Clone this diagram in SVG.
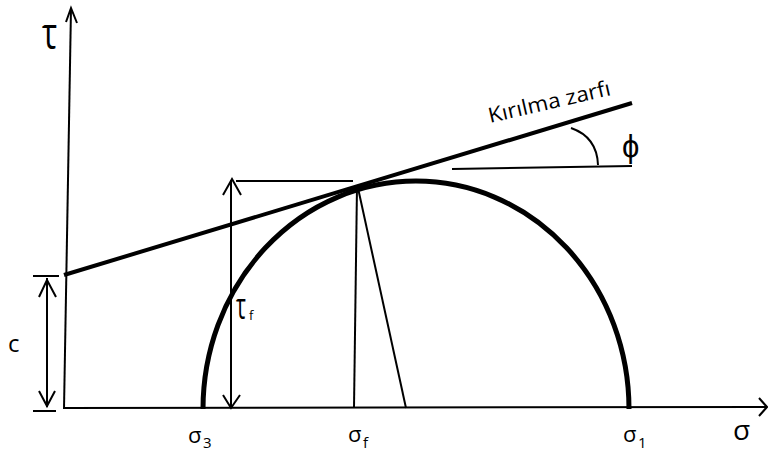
<svg xmlns="http://www.w3.org/2000/svg" width="768" height="453" viewBox="0 0 768 453">
<style>
.thin{stroke:#000;stroke-width:2;fill:none;stroke-linecap:butt}
.thick{stroke:#000;stroke-width:4;fill:none}
.circ{stroke:#000;stroke-width:5;fill:none}
text{font-family:"Open Sans","Liberation Sans",sans-serif;fill:#000}
</style>
<rect width="768" height="453" fill="#fff"/>
<g id="axes">
<line class="thin" x1="71" y1="8" x2="64" y2="409"/>
<polyline class="thin" points="66,22 71,8 77,23"/>
<line class="thin" x1="64" y1="408" x2="767" y2="407"/>
<polyline class="thin" points="759,398 767,407 759,416"/>
</g>
<g id="mohr-circle">
<path class="circ" d="M203,409 A213,228 0 0 1 629,409"/>
</g>
<g id="connectors">
<line class="thick" x1="64" y1="275" x2="632" y2="103"/>
<line class="thin" x1="236" y1="181" x2="353" y2="181"/>
<line class="thin" x1="231" y1="180" x2="231" y2="408"/>
<polyline class="thin" points="223,195 232,179 241,195"/>
<polyline class="thin" points="223,395 231,408 240,395"/>
<line class="thin" x1="47" y1="278" x2="47" y2="407"/>
<polyline class="thin" points="39,297 47,280 56,297"/>
<polyline class="thin" points="39,391 47,406 55,391"/>
<line class="thin" x1="33" y1="276" x2="59" y2="276"/>
<line class="thin" x1="33" y1="411" x2="56" y2="411"/>
<line class="thin" x1="357" y1="186" x2="354" y2="408"/>
<line class="thin" x1="358" y1="188" x2="406" y2="408"/>
<line class="thin" x1="452" y1="169" x2="632" y2="166"/>
<path class="thin" d="M571,128 Q597,137 598,165"/>
</g>
<g id="labels">
<text transform="translate(42,49) scale(1,1.38)" font-size="32">τ</text>
<text transform="translate(236,319) scale(1,1.7)" font-size="21">τ</text>
<text x="249" y="320" font-size="13">f</text>
<text x="8" y="352" font-size="24">c</text>
<text x="188" y="443" font-size="22">σ<tspan x="203" y="448" font-size="15">3</tspan></text>
<text x="348" y="442" font-size="22">σ<tspan x="363" y="448" font-size="15">f</tspan></text>
<text x="623" y="442" font-size="22">σ<tspan x="638" y="448" font-size="15">1</tspan></text>
<text x="733" y="440" font-size="28">σ</text>
<text x="622" y="157" font-size="31">ϕ</text>
<text transform="translate(490,123) rotate(-13)" font-size="21" textLength="125" lengthAdjust="spacingAndGlyphs">Kırılma zarfı</text>
</g>
</svg>
